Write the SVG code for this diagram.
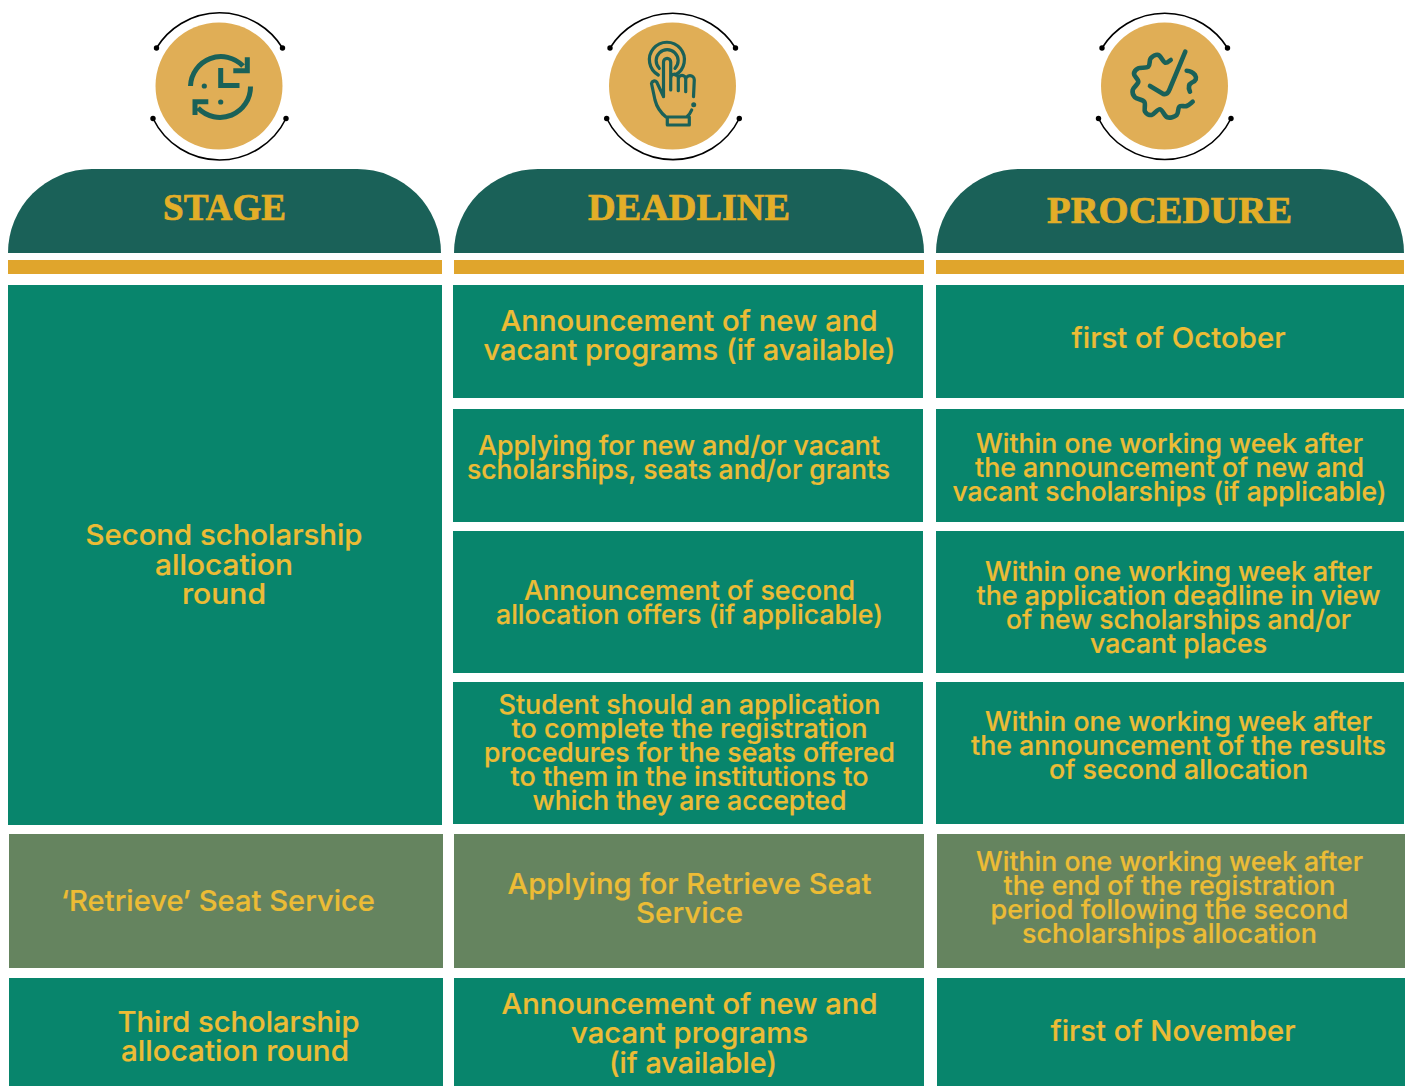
<svg xmlns="http://www.w3.org/2000/svg" width="1408" height="1086" viewBox="0 0 1408 1086">
<style>
.a{fill:none;stroke:#000;stroke-width:1.6}
.d{fill:#000}
.c{fill:#e0ae56}
.i{fill:none;stroke:#1a6158;stroke-width:5}
.l{fill:none;stroke:#1a6158;stroke-width:3.200;stroke-linecap:round;stroke-linejoin:round}
.w{fill:none;stroke:#1a6158;stroke-width:4.600;stroke-linecap:round;stroke-linejoin:round}
.f{fill:#1a6158}
.h{fill:#1a6158}
.b{fill:#e0a52c}
.g{fill:#08856c}
.o{fill:#65845f}
text{font-family:"Inter","Liberation Sans",sans-serif;font-weight:500;fill:#ecbc35;stroke:#ecbc35;stroke-width:.2;text-anchor:middle}
.t30{font-size:29px}.t28{font-size:26.500px}
text.s{font-family:"Liberation Serif",serif;font-weight:700;font-size:38px;fill:#e3ae28;stroke:#e3ae28;stroke-width:.7}
</style>
<rect width="1408" height="1086" fill="#fff"/>
<g id="icon-stage">
<path class="a" d="M156.500 48A74 74 0 0 1 282.500 48"/><path class="a" d="M153 118.500A74 74 0 0 0 286 118.500"/>
<circle class="d" cx="156.500" cy="48" r="2.700"/><circle class="d" cx="282.500" cy="48" r="2.700"/><circle class="d" cx="153" cy="118.500" r="2.700"/><circle class="d" cx="286" cy="118.500" r="2.700"/>
<circle class="c" cx="219" cy="86" r="63.500"/>
<path class="i" d="M190.500 86A30.500 30.500 0 0 1 243 66M250.500 86.500A30.500 30.500 0 0 1 198 108M220.700 68V85.500H239.500M233.300 70.700H247.300V57.300M208.300 101.700H195V115"/>
<circle class="f" cx="204.300" cy="86" r="2.600"/><circle class="f" cx="220.700" cy="102" r="2.600"/>
</g>
<g id="icon-deadline">
<path class="a" d="M610 48A74 74 0 0 1 735.500 48"/><path class="a" d="M606.700 118.500A74 74 0 0 0 739.300 118.500"/>
<circle class="d" cx="610" cy="48" r="2.700"/><circle class="d" cx="735.500" cy="48" r="2.700"/><circle class="d" cx="606.700" cy="118.500" r="2.700"/><circle class="d" cx="739.300" cy="118.500" r="2.700"/>
<circle class="c" cx="672.500" cy="86" r="63.500"/>
<path class="l" d="M658.300 75A17.500 17.500 0 1 1 675.500 75M659.300 68.300A11 11 0 1 1 675 68.300M663.500 96.700V62A3.600 3.600 0 0 1 670.700 62V90M670.700 78A3.800 3.800 0 0 1 678.300 78V90.700M678.300 79A3.700 3.700 0 0 1 685.700 79V91.700M685.700 80A4.300 4.300 0 0 1 694.300 80L693.500 96.700M663.500 96.700L656.700 82A3 3 0 0 0 651.500 83.500L655 100C657 108 661 113 666 117H686.700C689 115 690.500 113 691.700 110M667.300 117V125H689.300V117"/>
<circle class="f" cx="693.700" cy="104.700" r="2.500"/>
</g>
<g id="icon-procedure">
<path class="a" d="M1102 48A74 74 0 0 1 1227.500 48"/><path class="a" d="M1098.500 118.500A74 74 0 0 0 1231 118.500"/>
<circle class="d" cx="1102" cy="48" r="2.700"/><circle class="d" cx="1227.500" cy="48" r="2.700"/><circle class="d" cx="1098.500" cy="118.500" r="2.700"/><circle class="d" cx="1231" cy="118.500" r="2.700"/>
<circle class="c" cx="1164.500" cy="86" r="63.500"/>
<path class="w" d="M1170.700 60C1169.700 60.500 1167.070 63.530 1165 62.700C1162.930 61.870 1160.680 55.730 1158.300 55C1155.920 54.270 1152.370 56.350 1150.700 58.300C1149.030 60.250 1150.370 65.030 1148.300 66.700C1146.230 68.370 1140.680 67.080 1138.300 68.300C1135.920 69.520 1134 71.770 1134 74C1134 76.230 1138.520 79.030 1138.300 81.700C1138.080 84.370 1133.250 87.400 1132.700 90C1132.150 92.600 1133.070 95.350 1135 97.300C1136.930 99.250 1142.630 99.300 1144.300 101.700C1145.970 104.100 1143.770 109.480 1145 111.700C1146.230 113.920 1149.200 115.400 1151.700 115C1154.200 114.600 1157.400 108.920 1160 109.300C1162.600 109.680 1164.520 116.350 1167.300 117.300C1170.080 118.250 1174.700 116.770 1176.700 115C1178.700 113.230 1177.630 108.200 1179.300 106.700C1180.970 105.200 1184.470 106.830 1186.700 106C1188.930 105.170 1191.700 102.400 1192.700 101.700"/>
<path class="w" d="M1150 86L1163.300 94Q1167.500 95 1169.300 90L1185.300 51.700M1186.700 70.700Q1192 71 1195 75Q1198 80 1192 82.500Q1187 85 1190 91.700"/>
</g>
<g id="header-stage"><path class="h" d="M8 253A84 84 0 0 1 92 169H357A84 84 0 0 1 441 253Z"/><rect class="b" x="8" y="260" width="434" height="14"/><text class="s" x="224.500" y="220" textLength="123" lengthAdjust="spacingAndGlyphs">STAGE</text></g>
<g id="header-deadline"><path class="h" d="M454 253A84 84 0 0 1 538 169H840A84 84 0 0 1 924 253Z"/><rect class="b" x="454" y="260" width="470" height="14"/><text class="s" x="689" y="220" textLength="202" lengthAdjust="spacingAndGlyphs">DEADLINE</text></g>
<g id="header-procedure"><path class="h" d="M936 253A84 84 0 0 1 1020 169H1320A84 84 0 0 1 1404 253Z"/><rect class="b" x="936" y="260" width="468" height="14"/><text class="s" x="1169.500" y="223" textLength="245" lengthAdjust="spacingAndGlyphs">PROCEDURE</text></g>
<g id="stage-second"><rect class="g" x="8" y="285" width="434" height="540"/><text class="t30"><tspan x="224" y="545" textLength="277" lengthAdjust="spacingAndGlyphs">Second scholarship</tspan><tspan x="224" y="575" textLength="138" lengthAdjust="spacingAndGlyphs">allocation</tspan><tspan x="224" y="604" textLength="84" lengthAdjust="spacingAndGlyphs">round</tspan></text></g>
<g id="deadline-1"><rect class="g" x="453" y="285" width="470" height="113"/><text class="t30"><tspan x="689" y="331" textLength="377" lengthAdjust="spacingAndGlyphs">Announcement of new and</tspan><tspan x="689.500" y="360" textLength="412" lengthAdjust="spacingAndGlyphs">vacant programs (if available)</tspan></text></g>
<g id="procedure-1"><rect class="g" x="936" y="285" width="468" height="113"/><text class="t30"><tspan x="1178.500" y="348" textLength="214" lengthAdjust="spacingAndGlyphs">first of October</tspan></text></g>
<g id="deadline-2"><rect class="g" x="453" y="409" width="470" height="113"/><text class="t28"><tspan x="679" y="455" textLength="402" lengthAdjust="spacingAndGlyphs">Applying for new and/or vacant</tspan><tspan x="678.500" y="479" textLength="423" lengthAdjust="spacingAndGlyphs">scholarships, seats and/or grants</tspan></text></g>
<g id="procedure-2"><rect class="g" x="936" y="409" width="468" height="113"/><text class="t28"><tspan x="1169.500" y="452.500" textLength="387" lengthAdjust="spacingAndGlyphs">Within one working week after</tspan><tspan x="1169.500" y="476.500" textLength="389" lengthAdjust="spacingAndGlyphs">the announcement of new and</tspan><tspan x="1169.500" y="500.500" textLength="434" lengthAdjust="spacingAndGlyphs">vacant scholarships (if applicable)</tspan></text></g>
<g id="deadline-3"><rect class="g" x="453" y="531" width="470" height="142"/><text class="t28"><tspan x="689.500" y="600" textLength="331" lengthAdjust="spacingAndGlyphs">Announcement of second</tspan><tspan x="689.500" y="624" textLength="387" lengthAdjust="spacingAndGlyphs">allocation offers (if applicable)</tspan></text></g>
<g id="procedure-3"><rect class="g" x="936" y="531" width="468" height="142"/><text class="t28"><tspan x="1178.500" y="580.500" textLength="387" lengthAdjust="spacingAndGlyphs">Within one working week after</tspan><tspan x="1178.500" y="604.500" textLength="404" lengthAdjust="spacingAndGlyphs">the application deadline in view</tspan><tspan x="1178.500" y="628.500" textLength="345" lengthAdjust="spacingAndGlyphs">of new scholarships and/or</tspan><tspan x="1178.500" y="652.500" textLength="177" lengthAdjust="spacingAndGlyphs">vacant places</tspan></text></g>
<g id="deadline-4"><rect class="g" x="453" y="682" width="470" height="142"/><text class="t28"><tspan x="689.500" y="714" textLength="382" lengthAdjust="spacingAndGlyphs">Student should an application</tspan><tspan x="689.500" y="738" textLength="356" lengthAdjust="spacingAndGlyphs">to complete the registration</tspan><tspan x="689.500" y="762" textLength="411" lengthAdjust="spacingAndGlyphs">procedures for the seats offered</tspan><tspan x="689.500" y="786" textLength="358" lengthAdjust="spacingAndGlyphs">to them in the institutions to</tspan><tspan x="689.500" y="810" textLength="314" lengthAdjust="spacingAndGlyphs">which they are accepted</tspan></text></g>
<g id="procedure-4"><rect class="g" x="936" y="682" width="468" height="142"/><text class="t28"><tspan x="1178.500" y="730.500" textLength="387" lengthAdjust="spacingAndGlyphs">Within one working week after</tspan><tspan x="1178.500" y="754.500" textLength="415" lengthAdjust="spacingAndGlyphs">the announcement of the results</tspan><tspan x="1178.500" y="778.500" textLength="259" lengthAdjust="spacingAndGlyphs">of second allocation</tspan></text></g>
<g id="stage-retrieve"><rect class="o" x="9" y="834" width="434" height="134"/><text class="t30"><tspan x="218" y="911" textLength="314" lengthAdjust="spacingAndGlyphs">‘Retrieve’ Seat Service</tspan></text></g>
<g id="deadline-retrieve"><rect class="o" x="454" y="834" width="470" height="134"/><text class="t30"><tspan x="689.500" y="894" textLength="364" lengthAdjust="spacingAndGlyphs">Applying for Retrieve Seat</tspan><tspan x="689.500" y="923" textLength="107" lengthAdjust="spacingAndGlyphs">Service</tspan></text></g>
<g id="procedure-retrieve"><rect class="o" x="937" y="834" width="468" height="134"/><text class="t28"><tspan x="1169.500" y="870.500" textLength="387" lengthAdjust="spacingAndGlyphs">Within one working week after</tspan><tspan x="1169.500" y="894.500" textLength="332" lengthAdjust="spacingAndGlyphs">the end of the registration</tspan><tspan x="1169.500" y="918.500" textLength="358" lengthAdjust="spacingAndGlyphs">period following the second</tspan><tspan x="1169.500" y="942.500" textLength="295" lengthAdjust="spacingAndGlyphs">scholarships allocation</tspan></text></g>
<g id="stage-third"><rect class="g" x="9" y="978" width="434" height="108"/><text class="t30"><tspan x="238.500" y="1032" textLength="242" lengthAdjust="spacingAndGlyphs">Third scholarship</tspan><tspan x="235" y="1061" textLength="228" lengthAdjust="spacingAndGlyphs">allocation round</tspan></text></g>
<g id="deadline-third"><rect class="g" x="454" y="978" width="470" height="108"/><text class="t30"><tspan x="689.500" y="1014" textLength="376" lengthAdjust="spacingAndGlyphs">Announcement of new and</tspan><tspan x="689.500" y="1043" textLength="237" lengthAdjust="spacingAndGlyphs">vacant programs</tspan><tspan x="693" y="1073" textLength="168" lengthAdjust="spacingAndGlyphs">(if available)</tspan></text></g>
<g id="procedure-third"><rect class="g" x="937" y="978" width="468" height="108"/><text class="t30"><tspan x="1173" y="1041" textLength="245" lengthAdjust="spacingAndGlyphs">first of November</tspan></text></g>
</svg>
